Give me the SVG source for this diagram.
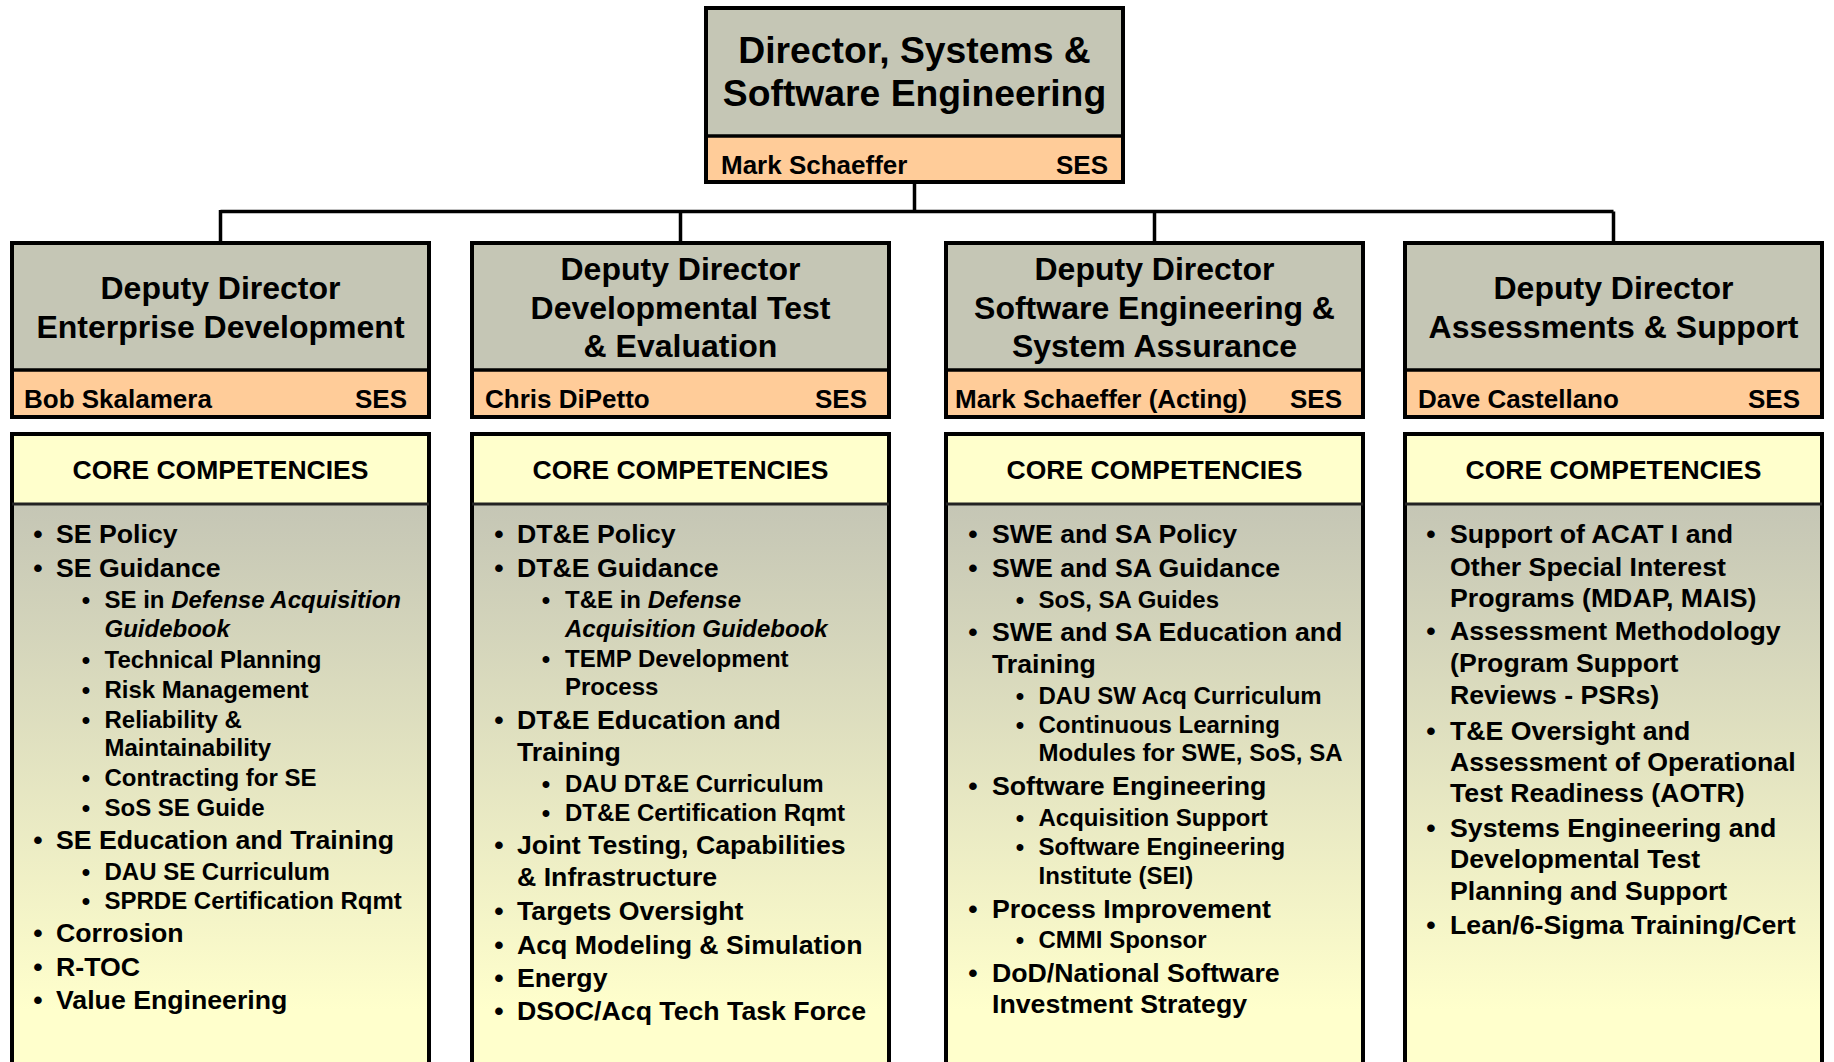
<svg xmlns="http://www.w3.org/2000/svg" width="1834" height="1062" viewBox="0 0 1834 1062">
<defs>
<linearGradient id="coreGrad" gradientUnits="userSpaceOnUse" x1="0" y1="505" x2="0" y2="1010">
<stop offset="0" stop-color="#C5C6B5"/>
<stop offset="1" stop-color="#FFFFCC"/>
</linearGradient>
<style>
text{font-family:"Liberation Sans",Arial,Helvetica,sans-serif;font-weight:bold;fill:#000}
.box{stroke:#000;stroke-width:4}
.gray{fill:#C5C6B5}
.orange{fill:#FFCC99}
.yellow{fill:#FFFFCC}
.div{stroke:#000;stroke-width:3.5}
.hdiv{stroke:#222;stroke-width:3}
.t1{font-size:37.3px;text-anchor:middle}
.t2{font-size:32px;text-anchor:middle}
.nm{font-size:26px}
.ses{font-size:26px;text-anchor:end}
.cc{font-size:26.5px;text-anchor:middle}
.m{font-size:26.7px}
.s{font-size:24px}
.bm{font-size:26.7px;text-anchor:middle}
.bs{font-size:24px;text-anchor:middle}
.i{font-style:italic}
.con{stroke:#000;stroke-width:3.5;fill:none}
</style>
</defs>
<rect width="1834" height="1062" fill="#FFFFFF"/>

<g id="connectors">
<path class="con" d="M914.5 184 V211.5 M220.5 211.5 H1613.5 M220.5 210 V242 M680.5 211.5 V242 M1154.5 211.5 V242 M1613.5 211.5 V242"/>
</g>

<g id="node-director">
<rect class="gray" x="706" y="8" width="417" height="128"/>
<rect class="orange" x="706" y="136" width="417" height="46"/>
<rect class="box" x="706" y="8" width="417" height="174" fill="none"/>
<line class="div" x1="706" y1="136" x2="1123" y2="136"/>
<text class="t1" x="914.5" y="63">Director, Systems &amp;</text>
<text class="t1" x="914.5" y="106">Software Engineering</text>
<text class="nm" x="721" y="174">Mark Schaeffer</text>
<text class="ses" x="1108" y="174">SES</text>
</g>

<g id="node-ed">
<rect class="gray" x="12" y="243" width="417" height="127"/>
<rect class="orange" x="12" y="370" width="417" height="47"/>
<rect class="box" x="12" y="243" width="417" height="174" fill="none"/>
<line class="div" x1="12" y1="370" x2="429" y2="370"/>
<text class="t2" x="220.5" y="299">Deputy Director</text>
<text class="t2" x="220.5" y="338">Enterprise Development</text>
<text class="nm" x="24" y="408">Bob Skalamera</text>
<text class="ses" x="407" y="408">SES</text>
</g>

<g id="node-dte">
<rect class="gray" x="472" y="243" width="417" height="127"/>
<rect class="orange" x="472" y="370" width="417" height="47"/>
<rect class="box" x="472" y="243" width="417" height="174" fill="none"/>
<line class="div" x1="472" y1="370" x2="889" y2="370"/>
<text class="t2" x="680.5" y="280">Deputy Director</text>
<text class="t2" x="680.5" y="319">Developmental Test</text>
<text class="t2" x="680.5" y="357">&amp; Evaluation</text>
<text class="nm" x="485" y="408">Chris DiPetto</text>
<text class="ses" x="867" y="408">SES</text>
</g>

<g id="node-swe">
<rect class="gray" x="946" y="243" width="417" height="127"/>
<rect class="orange" x="946" y="370" width="417" height="47"/>
<rect class="box" x="946" y="243" width="417" height="174" fill="none"/>
<line class="div" x1="946" y1="370" x2="1363" y2="370"/>
<text class="t2" x="1154.5" y="280">Deputy Director</text>
<text class="t2" x="1154.5" y="319">Software Engineering &amp;</text>
<text class="t2" x="1154.5" y="357">System Assurance</text>
<text class="nm" x="955" y="408">Mark Schaeffer (Acting)</text>
<text class="ses" x="1342" y="408">SES</text>
</g>

<g id="node-as">
<rect class="gray" x="1405" y="243" width="417" height="127"/>
<rect class="orange" x="1405" y="370" width="417" height="47"/>
<rect class="box" x="1405" y="243" width="417" height="174" fill="none"/>
<line class="div" x1="1405" y1="370" x2="1822" y2="370"/>
<text class="t2" x="1613.5" y="299">Deputy Director</text>
<text class="t2" x="1613.5" y="338">Assessments &amp; Support</text>
<text class="nm" x="1418" y="408">Dave Castellano</text>
<text class="ses" x="1800" y="408">SES</text>
</g>

<g id="core-ed">
<rect class="yellow" x="12" y="434" width="417" height="70"/>
<rect fill="url(#coreGrad)" x="12" y="504" width="417" height="600"/>
<rect class="box" x="12" y="434" width="417" height="700" fill="none"/>
<line class="hdiv" x1="12" y1="504" x2="429" y2="504"/>
<text class="cc" x="220.5" y="479">CORE COMPETENCIES</text>
<text class="bm" x="38" y="543">•</text><text class="m" x="56" y="543">SE Policy</text>
<text class="bm" x="38" y="577">•</text><text class="m" x="56" y="577">SE Guidance</text>
<text class="bs" x="86" y="608">•</text><text class="s" x="104.5" y="608">SE in <tspan class="i">Defense Acquisition</tspan></text>
<text class="s i" x="104.5" y="637">Guidebook</text>
<text class="bs" x="86" y="668">•</text><text class="s" x="104.5" y="668">Technical Planning</text>
<text class="bs" x="86" y="698">•</text><text class="s" x="104.5" y="698">Risk Management</text>
<text class="bs" x="86" y="728">•</text><text class="s" x="104.5" y="728">Reliability &amp;</text>
<text class="s" x="104.5" y="756">Maintainability</text>
<text class="bs" x="86" y="786">•</text><text class="s" x="104.5" y="786">Contracting for SE</text>
<text class="bs" x="86" y="816">•</text><text class="s" x="104.5" y="816">SoS SE Guide</text>
<text class="bm" x="38" y="849">•</text><text class="m" x="56" y="849">SE Education and Training</text>
<text class="bs" x="86" y="880">•</text><text class="s" x="104.5" y="880">DAU SE Curriculum</text>
<text class="bs" x="86" y="909">•</text><text class="s" x="104.5" y="909">SPRDE Certification Rqmt</text>
<text class="bm" x="38" y="942">•</text><text class="m" x="56" y="942">Corrosion</text>
<text class="bm" x="38" y="976">•</text><text class="m" x="56" y="976">R-TOC</text>
<text class="bm" x="38" y="1009">•</text><text class="m" x="56" y="1009">Value Engineering</text>
</g>

<g id="core-dte">
<rect class="yellow" x="472" y="434" width="417" height="70"/>
<rect fill="url(#coreGrad)" x="472" y="504" width="417" height="600"/>
<rect class="box" x="472" y="434" width="417" height="700" fill="none"/>
<line class="hdiv" x1="472" y1="504" x2="889" y2="504"/>
<text class="cc" x="680.5" y="479">CORE COMPETENCIES</text>
<text class="bm" x="499" y="543">•</text><text class="m" x="517" y="543">DT&amp;E Policy</text>
<text class="bm" x="499" y="577">•</text><text class="m" x="517" y="577">DT&amp;E Guidance</text>
<text class="bs" x="546" y="608">•</text><text class="s" x="565" y="608">T&amp;E in <tspan class="i">Defense</tspan></text>
<text class="s i" x="565" y="637">Acquisition Guidebook</text>
<text class="bs" x="546" y="667">•</text><text class="s" x="565" y="667">TEMP Development</text>
<text class="s" x="565" y="695">Process</text>
<text class="bm" x="499" y="729">•</text><text class="m" x="517" y="729">DT&amp;E Education and</text>
<text class="m" x="517" y="761">Training</text>
<text class="bs" x="546" y="792">•</text><text class="s" x="565" y="792">DAU DT&amp;E Curriculum</text>
<text class="bs" x="546" y="821">•</text><text class="s" x="565" y="821">DT&amp;E Certification Rqmt</text>
<text class="bm" x="499" y="854">•</text><text class="m" x="517" y="854">Joint Testing, Capabilities</text>
<text class="m" x="517" y="886">&amp; Infrastructure</text>
<text class="bm" x="499" y="920">•</text><text class="m" x="517" y="920">Targets Oversight</text>
<text class="bm" x="499" y="954">•</text><text class="m" x="517" y="954">Acq Modeling &amp; Simulation</text>
<text class="bm" x="499" y="987">•</text><text class="m" x="517" y="987">Energy</text>
<text class="bm" x="499" y="1020">•</text><text class="m" x="517" y="1020">DSOC/Acq Tech Task Force</text>
</g>

<g id="core-swe">
<rect class="yellow" x="946" y="434" width="417" height="70"/>
<rect fill="url(#coreGrad)" x="946" y="504" width="417" height="600"/>
<rect class="box" x="946" y="434" width="417" height="700" fill="none"/>
<line class="hdiv" x1="946" y1="504" x2="1363" y2="504"/>
<text class="cc" x="1154.5" y="479">CORE COMPETENCIES</text>
<text class="bm" x="973" y="543">•</text><text class="m" x="992" y="543">SWE and SA Policy</text>
<text class="bm" x="973" y="577">•</text><text class="m" x="992" y="577">SWE and SA Guidance</text>
<text class="bs" x="1020" y="608">•</text><text class="s" x="1038.5" y="608">SoS, SA Guides</text>
<text class="bm" x="973" y="641">•</text><text class="m" x="992" y="641">SWE and SA Education and</text>
<text class="m" x="992" y="673">Training</text>
<text class="bs" x="1020" y="704">•</text><text class="s" x="1038.5" y="704">DAU SW Acq Curriculum</text>
<text class="bs" x="1020" y="733">•</text><text class="s" x="1038.5" y="733">Continuous Learning</text>
<text class="s" x="1038.5" y="761">Modules for SWE, SoS, SA</text>
<text class="bm" x="973" y="795">•</text><text class="m" x="992" y="795">Software Engineering</text>
<text class="bs" x="1020" y="826">•</text><text class="s" x="1038.5" y="826">Acquisition Support</text>
<text class="bs" x="1020" y="855">•</text><text class="s" x="1038.5" y="855">Software Engineering</text>
<text class="s" x="1038.5" y="884">Institute (SEI)</text>
<text class="bm" x="973" y="918">•</text><text class="m" x="992" y="918">Process Improvement</text>
<text class="bs" x="1020" y="948">•</text><text class="s" x="1038.5" y="948">CMMI Sponsor</text>
<text class="bm" x="973" y="982">•</text><text class="m" x="992" y="982">DoD/National Software</text>
<text class="m" x="992" y="1013">Investment Strategy</text>
</g>

<g id="core-as">
<rect class="yellow" x="1405" y="434" width="417" height="70"/>
<rect fill="url(#coreGrad)" x="1405" y="504" width="417" height="600"/>
<rect class="box" x="1405" y="434" width="417" height="700" fill="none"/>
<line class="hdiv" x1="1405" y1="504" x2="1822" y2="504"/>
<text class="cc" x="1613.5" y="479">CORE COMPETENCIES</text>
<text class="bm" x="1431" y="543">•</text><text class="m" x="1450" y="543">Support of ACAT I and</text>
<text class="m" x="1450" y="575.5">Other Special Interest</text>
<text class="m" x="1450" y="607">Programs (MDAP, MAIS)</text>
<text class="bm" x="1431" y="640">•</text><text class="m" x="1450" y="640">Assessment Methodology</text>
<text class="m" x="1450" y="672">(Program Support</text>
<text class="m" x="1450" y="703.5">Reviews - PSRs)</text>
<text class="bm" x="1431" y="739.5">•</text><text class="m" x="1450" y="739.5">T&amp;E Oversight and</text>
<text class="m" x="1450" y="771">Assessment of Operational</text>
<text class="m" x="1450" y="802">Test Readiness (AOTR)</text>
<text class="bm" x="1431" y="837">•</text><text class="m" x="1450" y="837">Systems Engineering and</text>
<text class="m" x="1450" y="868">Developmental Test</text>
<text class="m" x="1450" y="899.5">Planning and Support</text>
<text class="bm" x="1431" y="934">•</text><text class="m" x="1450" y="934">Lean/6-Sigma Training/Cert</text>
</g>
</svg>
